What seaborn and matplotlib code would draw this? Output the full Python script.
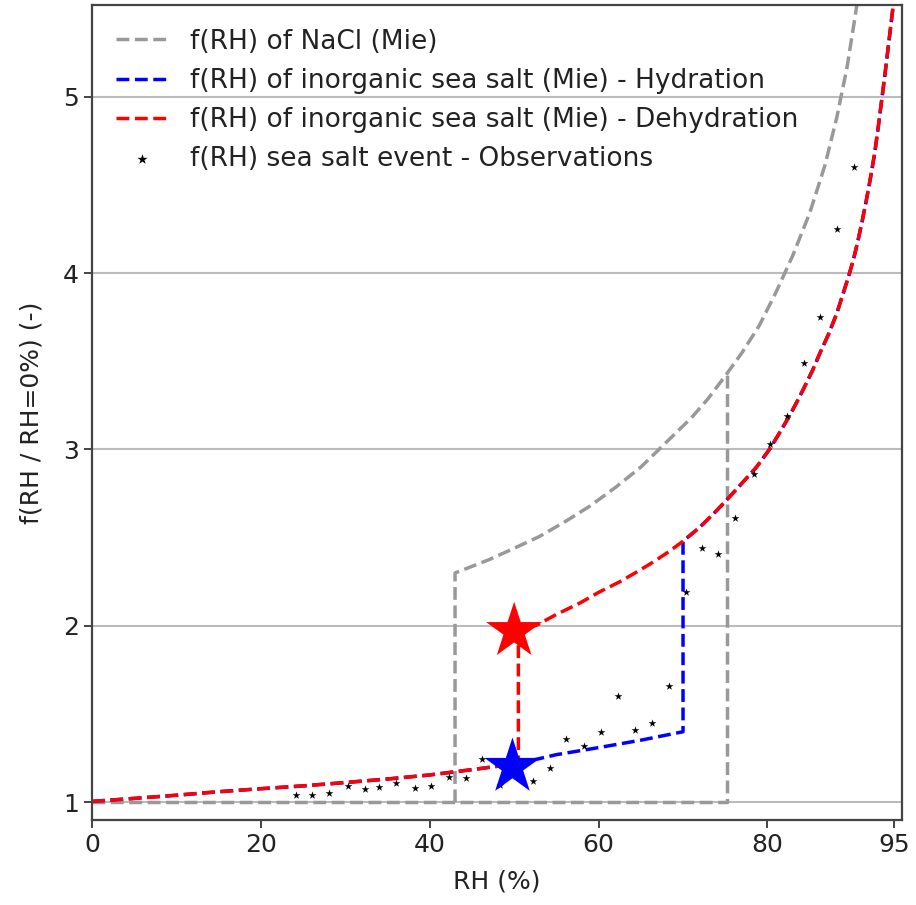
import numpy as np
import pandas as pd
import matplotlib
matplotlib.use('Agg')
import matplotlib.pyplot as plt
import seaborn as sns

# NaCl (Mie): deliquescence branch (flat, then jump) and efflorescence branch
nacl_up_rh = [0, 75.2, 75.2]
nacl_up_f = [1.0, 1.0, 3.43]
nacl_rh = [43, 43, 47, 50, 53, 56, 59, 62, 65, 68, 71, 73, 75.2, 77, 79, 81,
           83, 85, 86.8, 88.2, 89.4, 90.4, 90.7]
nacl_f = [1.0, 2.30, 2.375, 2.44, 2.507, 2.59, 2.68, 2.785, 2.90, 3.04, 3.18, 3.29, 3.43, 3.55, 3.70, 3.89,
          4.10, 4.34, 4.61, 4.88, 5.16, 5.46, 5.56]

# inorganic sea salt, lower (dry) branch and upper (wet) branch
low_rh = [0, 5, 10, 15, 20, 25, 30, 35, 40, 45, 50.5, 55, 60, 65, 70]
low_f = [1.005, 1.022, 1.040, 1.060, 1.077, 1.093, 1.112, 1.132, 1.155, 1.185, 1.22, 1.27, 1.31, 1.352, 1.40]
up_rh = [50.5, 52.7, 55, 57.8, 60, 62.5, 64.5, 66.4, 68.3, 70, 72, 73.5, 75.1, 77, 78.7, 80.3,
         81.5, 82.6, 83.6, 84.6, 85.4, 86.2, 87.2, 88.2, 89.0, 89.6, 90.2, 90.7, 91.2, 91.7,
         92.2, 92.7, 93.1, 93.5, 93.9, 94.3, 94.7, 95.0]
up_f = [1.97, 2.005, 2.065, 2.13, 2.19, 2.25, 2.305, 2.36, 2.42, 2.48, 2.56, 2.63, 2.71, 2.81, 2.90, 3.005,
        3.10, 3.19, 3.28, 3.375, 3.455, 3.545, 3.65, 3.77, 3.89, 3.98, 4.08, 4.18, 4.29, 4.41,
        4.54, 4.68, 4.82, 4.97, 5.12, 5.28, 5.44, 5.56]

# observations, sea salt event
obs_rh = [24.2, 26.1, 28.1, 30.3, 32.3, 34.0, 36.0, 38.2, 40.2, 42.3, 44.3, 46.2, 48.3,
          52.2, 54.2, 56.2, 58.3, 60.3, 62.3, 64.3, 66.3, 68.3, 70.4, 72.3, 74.2, 76.2,
          78.4, 80.3, 82.3, 84.3, 86.2, 88.2, 90.3]
obs_f = [1.04, 1.04, 1.055, 1.09, 1.075, 1.085, 1.11, 1.08, 1.09, 1.145, 1.135, 1.243, 1.10,
         1.12, 1.196, 1.36, 1.32, 1.40, 1.60, 1.41, 1.45, 1.66, 2.19, 2.44, 2.41, 2.61,
         2.86, 3.03, 3.19, 3.49, 3.75, 4.25, 4.60]

# deliquescence / efflorescence points
star_rh = [50.0, 49.8]
star_f = [1.97, 1.20]
star_col = ['red', 'blue']

# hydration: lower branch up to 70 %, jump, then upper branch
hyd_rh = low_rh + [r for r in up_rh if r >= 70]
hyd_f = low_f + [f for r, f in zip(up_rh, up_f) if r >= 70]
# dehydration: lower branch up to 50.5 %, jump, then upper branch
deh_rh = [r for r in low_rh if r <= 50.5] + up_rh
deh_f = [f for r, f in zip(low_rh, low_f) if r <= 50.5] + up_f

sns.set_style('ticks')
plt.rcParams['font.family'] = ['DejaVu Sans']
plt.rcParams['font.size'] = 18

fig = plt.figure(figsize=(9.16, 9.05), dpi=100)
ax = fig.add_axes([0.1004, 0.094, 0.884, 0.9005])

lw = 2.5
sns.lineplot(x=nacl_up_rh, y=nacl_up_f, sort=False, estimator=None, ax=ax,
             color='#999999', linestyle='--', linewidth=lw, label='f(RH) of NaCl (Mie)')
sns.lineplot(x=nacl_rh, y=nacl_f, sort=False, estimator=None, ax=ax,
             color='#999999', linestyle='--', linewidth=lw)
sns.lineplot(x=hyd_rh, y=hyd_f, sort=False, estimator=None, ax=ax,
             color='blue', linestyle='--', linewidth=lw,
             label='f(RH) of inorganic sea salt (Mie) - Hydration')
sns.lineplot(x=deh_rh, y=deh_f, sort=False, estimator=None, ax=ax,
             color='red', linestyle='--', linewidth=lw,
             label='f(RH) of inorganic sea salt (Mie) - Dehydration')
sns.scatterplot(x=obs_rh, y=obs_f, ax=ax, marker='*', s=35, color='black',
                linewidth=0, label='f(RH) sea salt event - Observations', zorder=4)
sns.scatterplot(x=star_rh, y=star_f, ax=ax, marker='*', s=1800, hue=star_col,
                palette={'red': 'red', 'blue': 'blue'}, linewidth=0, legend=False, zorder=5)

ax.set_xlim(0, 95.9)
ax.set_ylim(0.9, 5.52)
ax.set_xticks([0, 20, 40, 60, 80, 95])
ax.set_yticks([1, 2, 3, 4, 5])
ax.yaxis.grid(True, color='#bbbbbb', linewidth=1.5)
ax.set_axisbelow(True)
for s in ax.spines.values():
    s.set_linewidth(1.6)
    s.set_color('#444444')
ax.tick_params(width=1.4, length=6, color='#444444', labelcolor='#222222', labelsize=18)
ax.set_xlabel('RH (%)', color='#222222', fontsize=18, labelpad=9)
ax.set_ylabel('f(RH / RH=0%) (-)', color='#222222', fontsize=18, labelpad=14)

ax.legend(loc='upper left', frameon=False, fontsize=19, markerscale=1.3,
          labelcolor='#222222', borderaxespad=0.5)

fig.savefig('out.png', dpi=100)
